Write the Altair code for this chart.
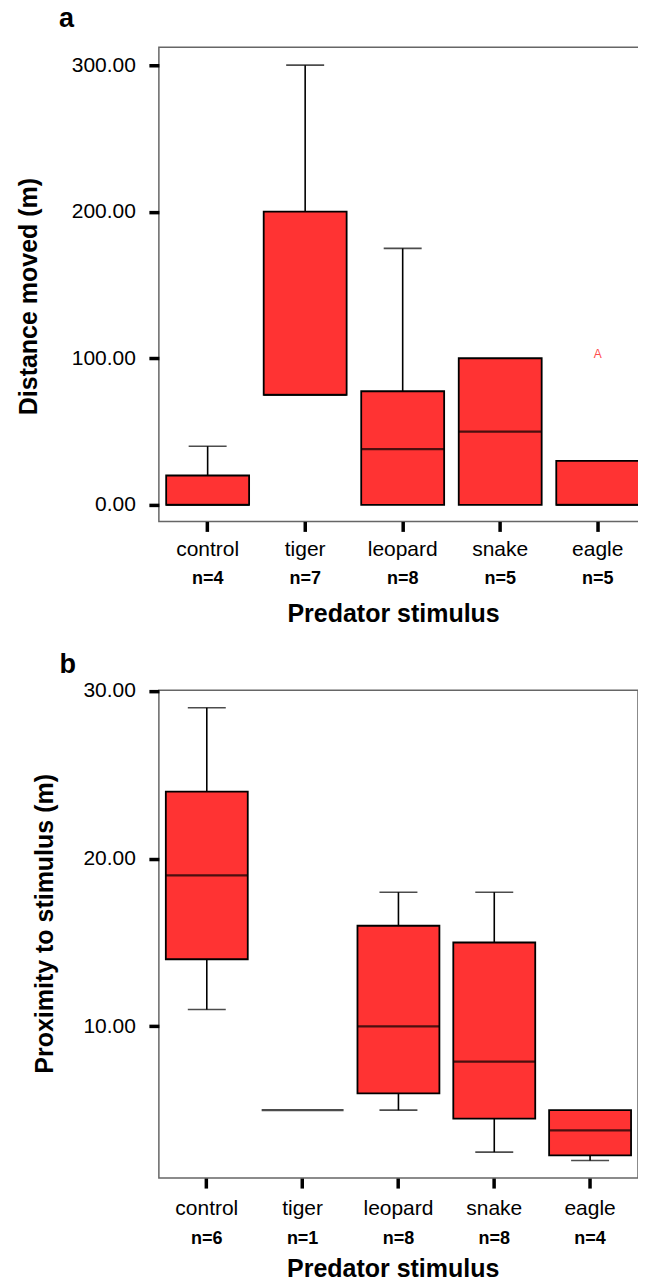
import altair as alt
import pandas as pd

categories = ["control", "tiger", "leopard", "snake", "eagle"]

# Panel a: Distance moved (m)
a_min = [0, 75, 0, 0, 0]
a_q1 = [0, 75, 0, 0, 0]
a_med = [0, 75, 38, 50, 0]
a_q3 = [20, 200, 77.5, 100, 30]
a_max = [40, 300, 175, 100, 30]
a_n = ["n=4", "n=7", "n=8", "n=5", "n=5"]
a_outlier_cat = ["eagle"]
a_outlier_val = [100]
a_ticks = [0, 100, 200, 300]

# Panel b: Proximity to stimulus (m)
b_min = [11, 5, 5, 2.5, 2.0]
b_q1 = [14, 5, 6, 4.5, 2.3]
b_med = [19, 5, 10, 7.9, 3.8]
b_q3 = [24, 5, 16, 15, 5]
b_max = [29, 5, 18, 18, 5]
b_n = ["n=6", "n=1", "n=8", "n=8", "n=4"]
b_ticks = [10, 20, 30]

FONT = "Liberation Sans"
RED = "#FF3333"


def panel(mn, q1, med, q3, mx, ns, ydomain, yticks, width, height,
          ytitle, ytitle_x, ytitle_y, xtitle_x, xtitle_y, letter,
          letter_x, letter_y, label_pad, n_y, box_w, cap_w, outlier=None):
    df = pd.DataFrame({"cat": categories, "mn": mn, "q1": q1, "med": med,
                       "q3": q3, "mx": mx, "n": ns})
    xs = alt.Scale(domain=categories, paddingInner=0, paddingOuter=0)
    ys = alt.Scale(domain=ydomain, nice=False, zero=False)
    xaxis = alt.Axis(title="Predator stimulus", labelAngle=0, labelFont=FONT,
                     labelFontSize=21, labelColor="black",
                     labelBaseline="alphabetic", labelPadding=label_pad,
                     tickSize=10, tickWidth=3.5, tickColor="black",
                     domain=False, grid=False, titleFont=FONT,
                     titleFontSize=25, titleFontWeight="bold",
                     titleColor="black", titleX=xtitle_x, titleY=xtitle_y,
                     titleAlign="center", titleBaseline="alphabetic")
    yaxis = alt.Axis(title=ytitle, values=yticks, format=".2f",
                     labelFont=FONT, labelFontSize=21, labelColor="black",
                     labelPadding=13.5, tickSize=10, tickWidth=3.5,
                     tickColor="black", domain=False, grid=False,
                     titleFont=FONT, titleFontSize=25, titleFontWeight="bold",
                     titleColor="black", titleX=ytitle_x, titleY=ytitle_y,
                     titleAngle=270, titleAlign="center",
                     titleBaseline="middle")
    base = alt.Chart(df)
    x = alt.X("cat:N", scale=xs, axis=xaxis, sort=categories)
    xn = alt.X("cat:N", scale=xs, sort=categories)

    up = df[df["mx"] > df["q3"]]
    lo = df[df["mn"] < df["q1"]]
    boxes = df[df["q3"] > df["q1"]]

    wh_up = alt.Chart(up).mark_rule(color="black", strokeWidth=1.6).encode(
        x=xn, y=alt.Y("q3:Q", scale=ys), y2="mx:Q")
    wh_lo = alt.Chart(lo).mark_rule(color="black", strokeWidth=1.6).encode(
        x=xn, y=alt.Y("mn:Q", scale=ys), y2="q1:Q")
    cap_up = alt.Chart(up).mark_tick(color="black", size=cap_w, thickness=1.6).encode(
        x=xn, y=alt.Y("mx:Q", scale=ys))
    cap_lo = alt.Chart(lo).mark_tick(color="black", size=cap_w, thickness=1.6).encode(
        x=xn, y=alt.Y("mn:Q", scale=ys))
    box = alt.Chart(boxes).mark_bar(size=box_w, fill=RED, stroke="black",
                                    strokeWidth=1.8).encode(
        x=x, y=alt.Y("q1:Q", scale=ys, axis=yaxis), y2="q3:Q")
    median = base.mark_tick(color="black", size=box_w, thickness=2.2).encode(
        x=xn, y=alt.Y("med:Q", scale=ys))
    nlab = base.mark_text(font=FONT, fontSize=18, fontWeight="bold",
                          color="black", baseline="alphabetic").encode(
        x=xn, y=alt.value(height + n_y), text="n:N")
    let = alt.Chart(pd.DataFrame({"t": [letter]})).mark_text(
        font=FONT, fontSize=27, fontWeight="bold", color="black",
        align="left", baseline="alphabetic").encode(
        x=alt.value(letter_x), y=alt.value(letter_y), text="t:N")
    layers = [box, wh_up, wh_lo, cap_up, cap_lo, median, nlab, let]
    if outlier is not None:
        odf = pd.DataFrame({"cat": outlier[0], "v": outlier[1], "t": ["A"]})
        layers.append(alt.Chart(odf).mark_text(
            font=FONT, fontSize=12, color="#FF4D4D",
            baseline="alphabetic").encode(
            x=xn, y=alt.Y("v:Q", scale=ys), text="t:N"))
    return alt.layer(*layers).properties(width=width, height=height)


pa = panel(a_min, a_q1, a_med, a_q3, a_max, a_n, [-11.3, 312.2], a_ticks,
           488, 474.5, "Distance moved (m)", -130, 249, 234.4, 100,
           "a", -100, -20.0, 24.2, 62.5, 83, 38,
           outlier=(a_outlier_cat, a_outlier_val))
pb = panel(b_min, b_q1, b_med, b_q3, b_max, b_n, [0.95, 30.05], b_ticks,
           479.5, 488.3, "Proximity to stimulus (m)", -114.3, 233.4, 234, 99,
           "b", -99.4, -17.4, 26.6, 65.5, 82, 38)

chart = alt.vconcat(pa, pb, spacing=168.4).properties(
    bounds="flush",
    padding={"left": 8, "top": -4.2, "right": -9.5, "bottom": -2.5},
).configure_view(stroke="#666666", strokeWidth=1.5)

chart.save("out.html", embed_options={"renderer": "svg", "actions": False})
